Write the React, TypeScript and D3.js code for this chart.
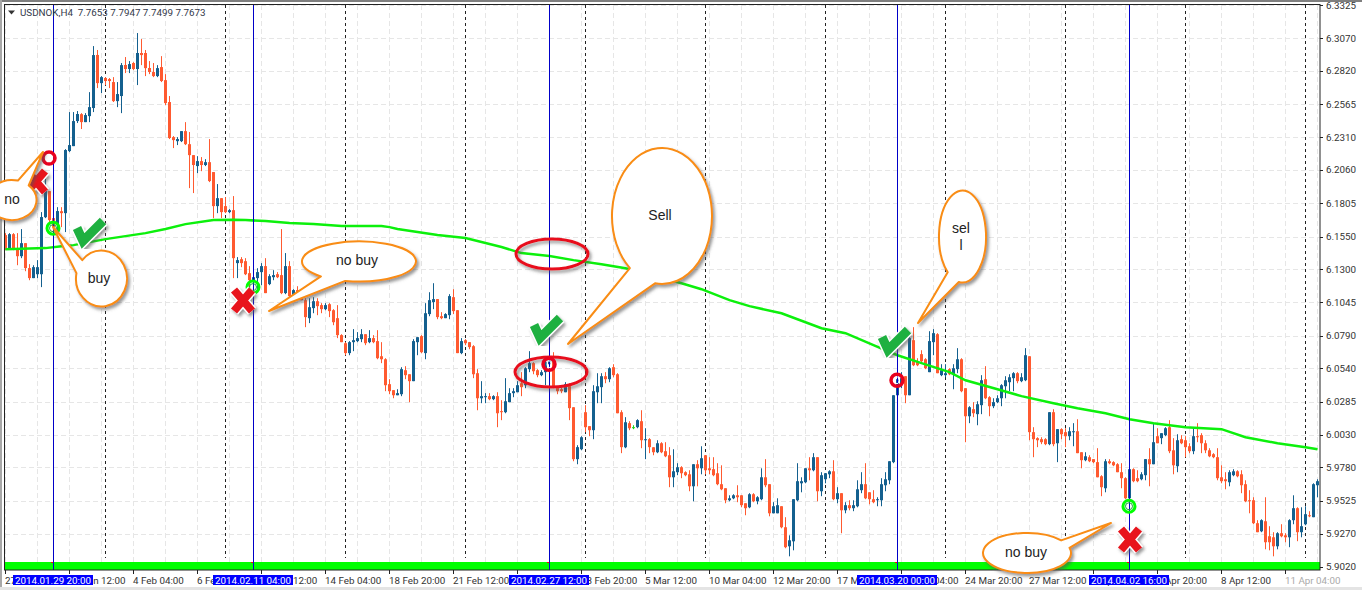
import React from "react";
import * as d3 from "d3";

// USDNOK H4 candles (one value per bar)
const opens = [
  6.1561, 6.1461, 6.1568, 6.1461, 6.1399, 6.1499, 6.1308, 6.1231, 6.1261, 6.1261, 6.1698, 6.1898, 6.1691, 6.1645, 6.1744, 6.1729,
  6.2205, 6.2243, 6.2435, 6.2488, 6.2427, 6.2473, 6.2535, 6.2942, 6.2726, 6.2765, 6.2757, 6.2734, 6.2588, 6.2627, 6.2865, 6.2834,
  6.2880, 6.2834, 6.2957, 6.2957, 6.2842, 6.2811, 6.2780, 6.2849, 6.2749, 6.2581, 6.2312, 6.2281, 6.2281, 6.2358, 6.2258, 6.2174,
  6.2090, 6.2128, 6.2098, 6.2120, 6.2044, 6.1783, 6.1844, 6.1783, 6.1737, 6.1752, 6.1346, 6.1376, 6.1361, 6.1269, 6.1215, 6.1231,
  6.1277, 6.1323, 6.1185, 6.1238, 6.1261, 6.1254, 6.1116, 6.1323, 6.1093, 6.1139, 6.1116, 6.1062, 6.0924, 6.1001, 6.1054, 6.1024,
  6.0993, 6.1031, 6.0985, 6.0924, 6.0794, 6.0732, 6.0656, 6.0740, 6.0748, 6.0763, 6.0801, 6.0740, 6.0771, 6.0748, 6.0632, 6.0609,
  6.0418, 6.0372, 6.0333, 6.0341, 6.0525, 6.0494, 6.0441, 6.0740, 6.0786, 6.0656, 6.0955, 6.1047, 6.1070, 6.0939, 6.0924, 6.0947,
  6.1085, 6.0985, 6.0656, 6.0755, 6.0740, 6.0709, 6.0502, 6.0310, 6.0318, 6.0326, 6.0303, 6.0326, 6.0211, 6.0203, 6.0280, 6.0349,
  6.0356, 6.0425, 6.0410, 6.0533, 6.0579, 6.0525, 6.0487, 6.0510, 6.0571, 6.0594, 6.0395, 6.0379, 6.0356, 6.0418, 6.0241, 5.9843,
  5.9919, 6.0203, 6.0096, 6.0065, 6.0356, 6.0395, 6.0479, 6.0456, 6.0548, 6.0494, 6.0203, 5.9934, 6.0119, 6.0088, 6.0088, 6.0134,
  5.9988, 5.9996, 5.9934, 5.9896, 5.9965, 5.9904, 5.9873, 5.9704, 5.9743, 5.9781, 5.9743, 5.9727, 5.9635, 5.9804, 5.9773, 5.9873,
  5.9773, 5.9766, 5.9735, 5.9651, 5.9620, 5.9528, 5.9543, 5.9566, 5.9566, 5.9505, 5.9474, 5.9574, 5.9520, 5.9536, 5.9704, 5.9651,
  5.9428, 5.9428, 5.9482, 5.9321, 5.9175, 5.9213, 5.9528, 5.9658, 5.9666, 5.9773, 5.9758, 5.9858, 5.9597, 5.9689, 5.9727, 5.9750,
  5.9536, 5.9582, 5.9451, 5.9490, 5.9467, 5.9482, 5.9605, 5.9651, 5.9589, 5.9536, 5.9528, 5.9528, 5.9643, 5.9681, 5.9820, 6.0333,
  6.0418, 6.0479, 6.0333, 6.0755, 6.0594, 6.0648, 6.0609, 6.0510, 6.0740, 6.0801, 6.0487, 6.0487, 6.0533, 6.0494, 6.0533, 6.0609,
  6.0387, 6.0172, 6.0226, 6.0188, 6.0257, 6.0456, 6.0318, 6.0249, 6.0280, 6.0310, 6.0402, 6.0433, 6.0464, 6.0502, 6.0441, 6.0448,
  6.0632, 6.0050, 6.0004, 5.9996, 5.9996, 5.9958, 6.0203, 5.9965, 6.0073, 6.0050, 6.0019, 6.0050, 6.0057, 5.9896, 5.9835, 5.9858,
  5.9843, 5.9820, 5.9712, 5.9620, 5.9827, 5.9820, 5.9804, 5.9743, 5.9697, 5.9543, 5.9766, 5.9697, 5.9689, 5.9720, 5.9843, 5.9804,
  6.0019, 6.0004, 6.0027, 6.0088, 5.9911, 5.9789, 5.9996, 5.9988, 5.9942, 5.9904, 6.0019, 6.0027, 5.9965, 5.9911, 5.9881, 5.9858,
  5.9704, 5.9689, 5.9666, 5.9720, 5.9750, 5.9727, 5.9651, 5.9528, 5.9528, 5.9352, 5.9290, 5.9367, 5.9252, 5.9244, 5.9175, 5.9275,
  5.9259, 5.9244, 5.9375, 5.9467, 5.9283, 5.9344, 5.9413, 5.9398, 5.9643,
];
const closes = [
  6.1461, 6.1568, 6.1461, 6.1399, 6.1499, 6.1308, 6.1231, 6.1315, 6.1315, 6.1699, 6.1898, 6.1676, 6.1622, 6.1745, 6.1729, 6.2213,
  6.2251, 6.2435, 6.2489, 6.2427, 6.2481, 6.2542, 6.2941, 6.2726, 6.2772, 6.2742, 6.2742, 6.2588, 6.2642, 6.2864, 6.2834, 6.2872,
  6.2834, 6.2957, 6.2941, 6.2841, 6.2811, 6.2780, 6.2841, 6.2742, 6.2573, 6.2305, 6.2289, 6.2297, 6.2358, 6.2258, 6.2174, 6.2098,
  6.2128, 6.2098, 6.2120, 6.1975, 6.1783, 6.1844, 6.1737, 6.1737, 6.1752, 6.1384, 6.1369, 6.1346, 6.1261, 6.1215, 6.1238, 6.1277,
  6.1323, 6.1116, 6.1246, 6.1254, 6.1238, 6.1116, 6.1323, 6.1093, 6.1139, 6.1116, 6.1062, 6.0932, 6.1008, 6.1054, 6.1016, 6.0993,
  6.1024, 6.0978, 6.0893, 6.0794, 6.0740, 6.0656, 6.0740, 6.0755, 6.0771, 6.0801, 6.0732, 6.0771, 6.0740, 6.0617, 6.0609, 6.0410,
  6.0364, 6.0333, 6.0349, 6.0533, 6.0487, 6.0441, 6.0748, 6.0778, 6.0663, 6.0962, 6.1062, 6.1070, 6.0932, 6.0924, 6.0955, 6.1093,
  6.0978, 6.0656, 6.0748, 6.0732, 6.0702, 6.0494, 6.0310, 6.0326, 6.0326, 6.0303, 6.0326, 6.0195, 6.0203, 6.0287, 6.0349, 6.0364,
  6.0410, 6.0395, 6.0540, 6.0579, 6.0517, 6.0487, 6.0510, 6.0586, 6.0594, 6.0395, 6.0364, 6.0364, 6.0418, 6.0234, 5.9843, 5.9935,
  6.0011, 6.0088, 6.0065, 6.0364, 6.0402, 6.0479, 6.0456, 6.0540, 6.0487, 6.0195, 5.9935, 6.0126, 6.0080, 6.0088, 6.0142, 5.9988,
  5.9996, 5.9935, 5.9896, 5.9965, 5.9896, 5.9865, 5.9704, 5.9750, 5.9781, 5.9735, 5.9720, 5.9635, 5.9804, 5.9773, 5.9850, 5.9758,
  5.9758, 5.9720, 5.9651, 5.9612, 5.9528, 5.9543, 5.9566, 5.9551, 5.9490, 5.9467, 5.9574, 5.9520, 5.9551, 5.9704, 5.9643, 5.9428,
  5.9482, 5.9490, 5.9321, 5.9168, 5.9221, 5.9536, 5.9674, 5.9674, 5.9773, 5.9758, 5.9858, 5.9597, 5.9720, 5.9735, 5.9750, 5.9536,
  5.9582, 5.9451, 5.9490, 5.9467, 5.9490, 5.9612, 5.9651, 5.9543, 5.9536, 5.9513, 5.9536, 5.9651, 5.9689, 5.9827, 6.0333, 6.0456,
  6.0464, 6.0333, 6.0771, 6.0563, 6.0563, 6.0594, 6.0540, 6.0748, 6.0809, 6.0502, 6.0525, 6.0502, 6.0494, 6.0540, 6.0609, 6.0364,
  6.0172, 6.0241, 6.0195, 6.0264, 6.0448, 6.0310, 6.0249, 6.0280, 6.0310, 6.0410, 6.0448, 6.0471, 6.0502, 6.0441, 6.0471, 6.0640,
  6.0050, 5.9996, 5.9988, 5.9973, 5.9958, 6.0203, 5.9958, 6.0073, 6.0034, 6.0019, 6.0057, 6.0057, 5.9889, 5.9835, 5.9865, 5.9827,
  5.9820, 5.9704, 5.9628, 5.9827, 5.9812, 5.9796, 5.9743, 5.9697, 5.9543, 5.9766, 5.9674, 5.9674, 5.9727, 5.9843, 5.9804, 5.9973,
  5.9965, 6.0042, 6.0080, 5.9904, 5.9796, 5.9988, 5.9965, 5.9935, 5.9904, 6.0019, 6.0011, 5.9965, 5.9911, 5.9865, 5.9858, 5.9697,
  5.9674, 5.9674, 5.9743, 5.9750, 5.9712, 5.9643, 5.9520, 5.9520, 5.9352, 5.9283, 5.9375, 5.9206, 5.9206, 5.9175, 5.9275, 5.9252,
  5.9244, 5.9375, 5.9467, 5.9283, 5.9329, 5.9421, 5.9405, 5.9651, 5.9674,
];
const highs = [
  6.1576, 6.1576, 6.1576, 6.1576, 6.1607, 6.1499, 6.1338, 6.1330, 6.1369, 6.1737, 6.1993, 6.1898, 6.1706, 6.1775, 6.1775, 6.2220,
  6.2504, 6.2504, 6.2512, 6.2496, 6.2496, 6.2657, 6.3010, 6.2980, 6.2780, 6.2772, 6.2765, 6.2772, 6.2734, 6.2880, 6.2926, 6.2895,
  6.2887, 6.3110, 6.3064, 6.2980, 6.2895, 6.2880, 6.2864, 6.2933, 6.2795, 6.2627, 6.2320, 6.2312, 6.2358, 6.2427, 6.2351, 6.2174,
  6.2166, 6.2159, 6.2143, 6.2297, 6.2044, 6.1952, 6.1844, 6.1852, 6.1760, 6.1860, 6.1392, 6.1392, 6.1384, 6.1323, 6.1307, 6.1307,
  6.1346, 6.1384, 6.1261, 6.1292, 6.1277, 6.1607, 6.1423, 6.1361, 6.1146, 6.1169, 6.1116, 6.1077, 6.1077, 6.1085, 6.1077, 6.1039,
  6.1039, 6.1039, 6.0993, 6.1024, 6.0801, 6.0740, 6.0748, 6.0840, 6.0817, 6.0840, 6.0801, 6.0832, 6.0794, 6.0832, 6.0740, 6.0617,
  6.0456, 6.0372, 6.0379, 6.0548, 6.0556, 6.0494, 6.0763, 6.0778, 6.0794, 6.1039, 6.1123, 6.1192, 6.1070, 6.0970, 6.0962, 6.1108,
  6.1146, 6.0985, 6.0771, 6.0763, 6.0740, 6.0717, 6.0533, 6.0441, 6.0349, 6.0349, 6.0333, 6.0356, 6.0295, 6.0464, 6.0387, 6.0387,
  6.0441, 6.0510, 6.0548, 6.0671, 6.0586, 6.0533, 6.0525, 6.0602, 6.0625, 6.0663, 6.0402, 6.0395, 6.0433, 6.0425, 6.0241, 5.9950,
  6.0019, 6.0257, 6.0096, 6.0410, 6.0502, 6.0502, 6.0510, 6.0548, 6.0571, 6.0502, 6.0218, 6.0165, 6.0134, 6.0103, 6.0149, 6.0218,
  6.0080, 6.0004, 5.9935, 5.9988, 5.9973, 5.9973, 5.9935, 5.9919, 5.9812, 5.9789, 5.9750, 5.9758, 5.9804, 5.9835, 5.9942, 5.9873,
  5.9858, 5.9858, 5.9812, 5.9796, 5.9620, 5.9566, 5.9574, 5.9643, 5.9566, 5.9505, 5.9582, 5.9582, 5.9559, 5.9773, 5.9843, 5.9651,
  5.9513, 5.9543, 5.9482, 5.9398, 5.9259, 5.9536, 5.9812, 5.9704, 5.9773, 5.9858, 5.9889, 5.9858, 5.9743, 5.9735, 5.9758, 5.9835,
  5.9628, 5.9582, 5.9513, 5.9528, 5.9528, 5.9681, 5.9743, 5.9812, 5.9589, 5.9605, 5.9551, 5.9697, 5.9743, 5.9827, 6.0333, 6.0517,
  6.0510, 6.0479, 6.0786, 6.0855, 6.0617, 6.0678, 6.0617, 6.0824, 6.0840, 6.0809, 6.0571, 6.0571, 6.0540, 6.0571, 6.0694, 6.0617,
  6.0387, 6.0249, 6.0280, 6.0287, 6.0487, 6.0556, 6.0326, 6.0310, 6.0333, 6.0418, 6.0479, 6.0494, 6.0510, 6.0510, 6.0502, 6.0694,
  6.0632, 6.0088, 6.0011, 6.0011, 6.0004, 6.0203, 6.0226, 6.0073, 6.0080, 6.0080, 6.0088, 6.0119, 6.0149, 5.9896, 5.9896, 5.9873,
  5.9843, 5.9927, 5.9720, 5.9843, 5.9843, 5.9827, 5.9812, 5.9812, 5.9704, 5.9835, 5.9773, 5.9758, 5.9743, 5.9843, 5.9927, 6.0119,
  6.0080, 6.0042, 6.0088, 6.0142, 6.0004, 6.0034, 6.0027, 6.0019, 5.9965, 6.0080, 6.0119, 6.0042, 5.9988, 5.9927, 5.9889, 5.9927,
  5.9796, 5.9743, 5.9758, 5.9766, 5.9758, 5.9758, 5.9681, 5.9605, 5.9551, 5.9375, 5.9382, 5.9551, 5.9329, 5.9283, 5.9283, 5.9344,
  5.9275, 5.9382, 5.9566, 5.9474, 5.9474, 5.9482, 5.9444, 5.9658, 5.9689,
];
const lows = [
  6.1445, 6.1453, 6.1445, 6.1330, 6.1384, 6.1284, 6.1215, 6.1231, 6.1231, 6.1162, 6.1691, 6.1660, 6.1599, 6.1576, 6.1622, 6.1584,
  6.2197, 6.2243, 6.2420, 6.2374, 6.2427, 6.2427, 6.2504, 6.2688, 6.2650, 6.2711, 6.2688, 6.2581, 6.2542, 6.2496, 6.2803, 6.2803,
  6.2826, 6.2711, 6.2864, 6.2780, 6.2795, 6.2772, 6.2772, 6.2734, 6.2558, 6.2297, 6.2228, 6.2251, 6.2274, 6.2251, 6.1921, 6.1883,
  6.2036, 6.2051, 6.2090, 6.1967, 6.1691, 6.1729, 6.1691, 6.1729, 6.1729, 6.1231, 6.1231, 6.1315, 6.1254, 6.1139, 6.1139, 6.1139,
  6.1177, 6.1116, 6.1177, 6.1215, 6.1231, 6.1108, 6.1108, 6.1077, 6.1085, 6.1085, 6.1062, 6.0855, 6.0886, 6.0962, 6.0947, 6.0962,
  6.0985, 6.0932, 6.0870, 6.0771, 6.0740, 6.0640, 6.0640, 6.0671, 6.0740, 6.0740, 6.0717, 6.0732, 6.0732, 6.0609, 6.0579, 6.0364,
  6.0341, 6.0310, 6.0333, 6.0326, 6.0456, 6.0280, 6.0441, 6.0640, 6.0656, 6.0609, 6.0939, 6.0993, 6.0916, 6.0916, 6.0924, 6.0916,
  6.0955, 6.0656, 6.0648, 6.0717, 6.0686, 6.0464, 6.0218, 6.0272, 6.0272, 6.0295, 6.0295, 6.0088, 6.0142, 6.0195, 6.0280, 6.0318,
  6.0356, 6.0326, 6.0387, 6.0510, 6.0494, 6.0471, 6.0479, 6.0410, 6.0556, 6.0387, 6.0341, 6.0349, 6.0356, 6.0142, 5.9827, 5.9804,
  5.9911, 6.0050, 6.0019, 5.9996, 6.0272, 6.0272, 6.0425, 6.0433, 6.0471, 6.0195, 5.9889, 5.9927, 6.0065, 6.0073, 6.0080, 5.9927,
  5.9843, 5.9889, 5.9873, 5.9889, 5.9889, 5.9858, 5.9628, 5.9628, 5.9720, 5.9697, 5.9712, 5.9597, 5.9520, 5.9635, 5.9727, 5.9727,
  5.9727, 5.9712, 5.9643, 5.9605, 5.9505, 5.9520, 5.9536, 5.9513, 5.9474, 5.9413, 5.9467, 5.9513, 5.9497, 5.9528, 5.9628, 5.9405,
  5.9428, 5.9428, 5.9313, 5.9160, 5.9098, 5.9144, 5.9520, 5.9589, 5.9658, 5.9681, 5.9750, 5.9520, 5.9559, 5.9658, 5.9697, 5.9528,
  5.9505, 5.9275, 5.9428, 5.9451, 5.9444, 5.9474, 5.9582, 5.9536, 5.9497, 5.9505, 5.9482, 5.9482, 5.9597, 5.9651, 5.9812, 6.0333,
  6.0387, 6.0272, 6.0333, 6.0556, 6.0556, 6.0586, 6.0533, 6.0510, 6.0640, 6.0502, 6.0479, 6.0471, 6.0487, 6.0379, 6.0502, 6.0356,
  5.9973, 6.0119, 6.0165, 6.0103, 6.0188, 6.0303, 6.0172, 6.0234, 6.0272, 6.0249, 6.0310, 6.0364, 6.0364, 6.0425, 6.0433, 6.0441,
  5.9988, 5.9858, 5.9935, 5.9958, 5.9950, 5.9950, 5.9942, 5.9820, 5.9996, 5.9935, 5.9988, 5.9942, 5.9889, 5.9773, 5.9827, 5.9820,
  5.9812, 5.9704, 5.9559, 5.9589, 5.9804, 5.9789, 5.9743, 5.9620, 5.9536, 5.9505, 5.9666, 5.9666, 5.9681, 5.9681, 5.9635, 5.9804,
  5.9965, 5.9958, 6.0019, 5.9889, 5.9727, 5.9743, 5.9958, 5.9858, 5.9889, 5.9881, 5.9973, 5.9889, 5.9889, 5.9858, 5.9850, 5.9681,
  5.9658, 5.9612, 5.9635, 5.9712, 5.9704, 5.9582, 5.9513, 5.9428, 5.9344, 5.9283, 5.9283, 5.9152, 5.9144, 5.9098, 5.9152, 5.9244,
  5.9206, 5.9168, 5.9344, 5.9214, 5.9244, 5.9336, 5.9398, 5.9398, 5.9551,
];

// moving average, read at the bars where the line bends
const maBars = [
  0, 10, 14, 17, 21, 25, 30, 35, 40, 45, 52, 57, 60, 65, 71, 77, 84, 94, 96, 98, 108, 115, 124, 129, 136, 142, 149, 155,
  169, 174, 181, 186, 194, 204, 210, 217, 223, 229, 236, 240, 248, 254, 262, 268, 275, 281, 287, 295, 304, 310, 318, 325, 328,
];
const maValues = [
  6.1453, 6.1461, 6.1476, 6.1484, 6.1507, 6.1530, 6.1553, 6.1576, 6.1607, 6.1645, 6.1676, 6.1679, 6.1676, 6.1668, 6.1653, 6.1645, 6.1630, 6.1630, 6.1622, 6.1607, 6.1561, 6.1538, 6.1469, 6.1423, 6.1400, 6.1369, 6.1338, 6.1307,
  6.1192, 6.1146, 6.1062, 6.1016, 6.0962, 6.0847, 6.0809, 6.0717, 6.0640, 6.0579, 6.0510, 6.0448, 6.0379, 6.0326, 6.0272, 6.0234, 6.0195, 6.0149, 6.0119, 6.0088, 6.0073, 6.0011, 5.9965, 5.9935, 5.9919,
];

const priceTicks = [
  6.3325, 6.307, 6.282, 6.2565, 6.231, 6.206, 6.1805, 6.155, 6.13, 6.1045, 6.079, 6.054, 6.0285, 6.003, 5.978, 5.9525, 5.927, 5.902,
];
const timeLabels = [
  "27 Jan 20:00", "30 Jan 12:00", "4 Feb 04:00", "6 Feb 20:00", "11 Feb 12:00", "14 Feb 04:00", "18 Feb 20:00", "21 Feb 12:00",
  "26 Feb 04:00", "28 Feb 20:00", "5 Mar 12:00", "10 Mar 04:00", "12 Mar 20:00", "17 Mar 12:00", "20 Mar 04:00", "24 Mar 20:00",
  "27 Mar 12:00", "1 Apr 04:00", "3 Apr 20:00", "8 Apr 12:00", "11 Apr 04:00",
];
const signalBars = [12, 62, 136, 223, 281];
const signalLabels = ["2014.01.29 20:00", "2014.02.11 04:00", "2014.02.27 12:00", "2014.03.20 00:00", "2014.04.02 16:00"];
const separatorBars = [25, 55, 85, 115, 145, 175, 205, 235, 265, 295, 325];
const buyRingBars = [12, 62, 281];
const buyRingPrices = [6.1614, 6.1162, 5.9482];
const sellRingBars = [11, 136, 223];
const sellRingPrices = [6.2151, 6.0571, 6.0448];

const W = 1362;
const H = 590;
const left = 5;
const right = 1320;
const top = 5;
const bottom = 570;

const AXIS_FONT = "Roboto, 'Liberation Sans', sans-serif";
const AXIS_SIZE = 9.8;
const NOTE_FONT = "'Liberation Sans', Arial, sans-serif";
const UP = "#14608f";
const DOWN = "#ff5a30";
const ORANGE = "#f98c12";

const x = d3.scaleLinear().domain([0, 328]).range([5, 1317]);
const y = d3.scaleLinear().domain([5.902, 6.3325]).range([566.5, 5]);

const maLine = d3
  .line<number>()
  .x((d, i) => x(maBars[i]) + 0.5)
  .y((d) => y(d));

// speech bubble: ellipse with a pointer between angles a1 and a2
const bubble = (cx, cy, rx, ry, a1, a2, tipX, tipY) => {
  const pt = (a) => {
    const r = (a * Math.PI) / 180;
    return `${cx + rx * Math.cos(r)} ${cy + ry * Math.sin(r)}`;
  };
  return `M${pt(a2)} A${rx} ${ry} 0 1 1 ${pt(a1)} L${tipX} ${tipY} Z`;
};

const Bubble = ({ d, lines, tx, ty }) => (
  <g>
    <path d={d} fill="#fff" stroke={ORANGE} strokeWidth={2} strokeLinejoin="round" filter="url(#shadow)" />
    {lines.map((t, i) => (
      <text key={i} x={tx} y={ty + i * 17} textAnchor="middle" fontFamily={NOTE_FONT} fontSize={14} fill="#222">
        {t}
      </text>
    ))}
  </g>
);

const Check = ({ px, py }) => (
  <g transform={`translate(${px} ${py})`}>
    <path d="M4 11 L10 24 L30 4" fill="none" stroke="#fff" strokeWidth={12} filter="url(#shadow)" />
    <path d="M4 11 L10 24 L30 4" fill="none" stroke="#1eb040" strokeWidth={9} />
  </g>
);

const Cross = ({ px, py }) => (
  <g transform={`translate(${px} ${py})`}>
    <path d="M3 3 L21 24 M21 3 L3 24" fill="none" stroke="#fff" strokeWidth={10.5} filter="url(#shadow)" />
    <path d="M3 3 L21 24 M21 3 L3 24" fill="none" stroke="#e8141c" strokeWidth={8} />
  </g>
);

export default function App() {
  const gridBars = d3.range(0, 329, 8);
  return (
    <svg width={W} height={H} style={{ position: "absolute", left: 0, top: 0, background: "#fff" }}>
      <defs>
        <filter id="shadow" x="-30%" y="-30%" width="170%" height="170%">
          <feDropShadow dx="2" dy="2.5" stdDeviation="1.8" floodColor="#555" floodOpacity="0.6" />
        </filter>
      </defs>

      {/* window edges */}
      <rect x={0} y={0} width={W} height={2} fill="#7f7f7f" />
      <rect x={0} y={0} width={2} height={H} fill="#a8a8a8" />
      <rect x={0} y={587} width={W} height={3} fill="#e4e4e4" />

      {/* grid */}
      {priceTicks.map((t) => (
        <line key={t} x1={left} x2={right} y1={Math.round(y(t)) + 0.5} y2={Math.round(y(t)) + 0.5} stroke="#e6e6e6" strokeDasharray="5 3" />
      ))}
      {gridBars.map((b) => (
        <line key={b} x1={x(b) + 0.5} x2={x(b) + 0.5} y1={top} y2={562} stroke="#e6e6e6" strokeDasharray="5 3" />
      ))}

      {/* period separators */}
      {separatorBars.map((b) => (
        <line key={b} x1={x(b) + 0.5} x2={x(b) + 0.5} y1={top} y2={558} stroke="#222" strokeDasharray="3 3" />
      ))}

      {/* candles */}
      {opens.map((o, i) => {
        const c = closes[i];
        const col = o === c ? "#19d619" : c > o ? UP : DOWN;
        const bodyTop = y(Math.max(o, c));
        const bodyH = Math.max(1, Math.abs(y(o) - y(c)));
        return (
          <g key={i}>
            <line x1={x(i) + 0.5} x2={x(i) + 0.5} y1={y(highs[i])} y2={y(lows[i])} stroke={col} />
            <rect x={x(i) - 1} y={bodyTop} width={3} height={bodyH} fill={col} />
          </g>
        );
      })}

      <path d={maLine(maValues)} fill="none" stroke="#0cf00c" strokeWidth={2.5} />

      {/* bottom band */}
      <rect x={left} y={562} width={right - left} height={8} fill="#00ff00" />

      {/* signal lines */}
      {signalBars.map((b) => (
        <g key={b}>
          <line x1={x(b) + 0.5} x2={x(b) + 0.5} y1={top} y2={bottom} stroke="#0000c8" />
          <rect x={x(b) - 2} y={562} width={2} height={1} fill="#ff0000" />
        </g>
      ))}

      {/* frame and axes */}
      <rect x={4.5} y={4.5} width={right - 4.5} height={bottom - 4.5} fill="none" stroke="#222" />
      {priceTicks.map((t) => (
        <g key={t}>
          <line x1={right} x2={right + 3} y1={Math.round(y(t)) + 0.5} y2={Math.round(y(t)) + 0.5} stroke="#222" />
          <text x={1326} y={y(t) + 3.5} fontFamily={AXIS_FONT} fontSize={AXIS_SIZE} fill="#333">
            {t.toFixed(4)}
          </text>
        </g>
      ))}
      {timeLabels.map((t, i) => (
        <g key={t}>
          <line x1={x(i * 16) + 0.5} x2={x(i * 16) + 0.5} y1={bottom} y2={bottom + 4} stroke="#222" />
          <text x={x(i * 16)} y={583.5} fontFamily={AXIS_FONT} fontSize={AXIS_SIZE} fill={i === 20 ? "#aaa" : "#333"}>
            {t}
          </text>
        </g>
      ))}
      {signalBars.map((b, i) => (
        <g key={b}>
          <rect x={x(b) - 40} y={575} width={80} height={10} fill="#0000ff" />
          <text x={x(b)} y={583.5} textAnchor="middle" fontFamily={AXIS_FONT} fontSize={AXIS_SIZE} fill="#fff">
            {signalLabels[i]}
          </text>
        </g>
      ))}

      {/* header */}
      <path d="M8 10.5 L15 10.5 L11.5 14.5 Z" fill="#333" />
      <text x={20} y={16} fontFamily={AXIS_FONT} fontSize={AXIS_SIZE} fill="#33394a" xmlSpace="preserve">
        USDNOK,H4  7.7653 7.7947 7.7499 7.7673
      </text>

      {/* hand-drawn ellipses */}
      <ellipse cx={552} cy={254} rx={36} ry={15} fill="none" stroke="#e8101e" strokeWidth={3} filter="url(#shadow)" />
      <ellipse cx={551} cy={372} rx={36} ry={15} fill="none" stroke="#e8101e" strokeWidth={3} filter="url(#shadow)" />

      {/* entry rings */}
      {buyRingBars.map((b, i) => (
        <g key={b}>
          <circle cx={x(b)} cy={y(buyRingPrices[i])} r={6} fill="none" stroke="#00ff00" strokeWidth={3} />
          <circle cx={x(b)} cy={y(buyRingPrices[i])} r={3.5} fill="none" stroke="#19a03c" strokeWidth={1} />
        </g>
      ))}
      {sellRingBars.map((b, i) => (
        <g key={b}>
          <circle cx={x(b)} cy={y(sellRingPrices[i])} r={6} fill="none" stroke="#e8001e" strokeWidth={3.5} />
          <ellipse cx={x(b)} cy={y(sellRingPrices[i])} rx={2} ry={3.5} fill="none" stroke="#fff" strokeWidth={1} />
        </g>
      ))}

      <Cross px={24} py={168} />
      <Check px={73} py={217} />
      <Check px={530} py={314} />
      <Check px={878} py={326} />
      <Cross px={231} py={287} />
      <Cross px={1118} py={526} />

      <Bubble d={bubble(12, 200, 24.5, 20, -76, -47, 43, 152)} lines={["no"]} tx={12} ty={204} />
      <Bubble d={bubble(101.5, 278.5, 25.5, 28, -169, -139, 53, 227)} lines={["buy"]} tx={99} ty={283} />
      <Bubble d={bubble(359, 261.5, 57, 20, 104, 132, 269, 311)} lines={["no buy"]} tx={357} ty={265} />
      <Bubble d={bubble(662, 216, 50, 68, 98, 130, 568, 344)} lines={["Sell"]} tx={660} ty={220} />
      <Bubble d={bubble(962.5, 236.5, 23.5, 46, 99, 129, 918, 323)} lines={["sel", "l"]} tx={961} ty={233} />
      <Bubble d={bubble(1027, 553, 44, 20, -39, -15, 1111, 523)} lines={["no buy"]} tx={1026} ty={557} />
    </svg>
  );
}
